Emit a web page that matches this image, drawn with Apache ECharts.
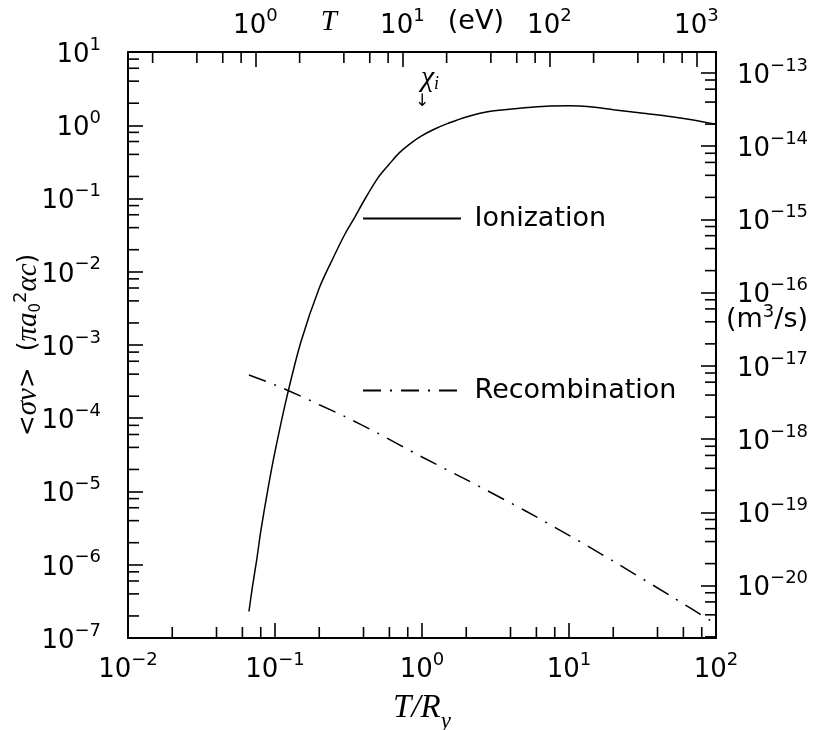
<!DOCTYPE html>
<html><head><meta charset="utf-8">
<script src="https://cdn.jsdelivr.net/npm/echarts@6/dist/echarts.min.js"></script>
<style>html,body{margin:0;padding:0;background:#fff}#c{width:818px;height:730px}</style>
</head><body><div id="c"></div>
<script>
// ---- data ----
const ionT = [0.0665, 0.07, 0.075, 0.08, 0.09, 0.1, 0.12, 0.15, 0.2, 0.25, 0.3, 0.35, 0.4, 0.5, 0.6, 0.7, 0.85, 1, 1.2, 1.5, 2, 3, 5, 7, 10, 15, 20, 30, 50, 70, 100];
const ionRate = [2.3e-7, 4.8e-7, 1.15e-6, 2.85e-6, 1.15e-5, 3.5e-5, 1.9e-4, 1.1e-3, 6.0e-3, 0.0158, 0.033, 0.056, 0.091, 0.19, 0.295, 0.42, 0.58, 0.72, 0.875, 1.06, 1.30, 1.56, 1.73, 1.82, 1.84, 1.76, 1.63, 1.48, 1.31, 1.18, 1.03];
const recT = [0.0665, 0.1, 0.15, 0.2, 0.3, 0.5, 1, 2, 5, 10, 20, 50, 100];
const recRate = [3.9e-4, 2.85e-4, 2.0e-4, 1.53e-4, 1.05e-4, 6.25e-5, 2.96e-5, 1.45e-5, 5.5e-6, 2.52e-6, 1.12e-6, 3.67e-7, 1.55e-7];
const seriesNames = ['Ionization', 'Recombination'];
const xRange = [0.01, 100];          // T/Ry
const yRange = [1e-7, 10];           // <sigma v> in pi a0^2 alpha c
const RY_EV = 13.6;                  // eV per Rydberg
const RATE_UNIT = 1.93e-14;          // m^3/s per (pi a0^2 alpha c)
const minorMult = [2, 4, 6, 8];

// ---- helpers ----
function expLabel(v) {
  const e = Math.round(Math.log10(v));
  return '{b|10}{s|' + (e < 0 ? '\u2212' + (-e) : e) + '}';
}
function minorVals(lo, hi) {
  const out = [];
  for (let e = Math.floor(Math.log10(lo)); e <= Math.ceil(Math.log10(hi)); e++) {
    for (const m of minorMult) {
      const v = m * Math.pow(10, e);
      if (v > lo * 1.0001 && v < hi * 0.9999) out.push(v);
    }
  }
  return out;
}
const rich = {
  b: {fontFamily: 'DejaVu Sans', fontSize: 26, lineHeight: 32, verticalAlign: 'bottom', color: '#000'},
  s: {fontFamily: 'DejaVu Sans', fontSize: 18, lineHeight: 18, verticalAlign: 'top', color: '#000'}
};
const axLine = {show: true, lineStyle: {color: '#000', width: 2}};
const axTick = {show: true, inside: true, length: 15, lineStyle: {color: '#000', width: 1.6}};
const tickStyle = {stroke: '#000', lineWidth: 1.6};
const MINOR = 11;

function tickSeries(xi, yi, data, dx, dy) {
  return {
    type: 'custom', xAxisIndex: xi, yAxisIndex: yi, silent: true, clip: false, z: 5,
    data: data,
    renderItem: function (params, api) {
      const p = api.coord([api.value(0), api.value(1)]);
      return {type: 'line', shape: {x1: p[0], y1: p[1], x2: p[0] + dx, y2: p[1] + dy}, style: tickStyle};
    }
  };
}

const chart = echarts.init(document.getElementById('c'), null, {renderer: 'canvas'});
const eVRange = [xRange[0] * RY_EV, xRange[1] * RY_EV];
const mRange = [yRange[0] * RATE_UNIT, yRange[1] * RATE_UNIT];

chart.setOption({
  animation: false,
  backgroundColor: '#fff',
  grid: {left: 128, right: 102, top: 52, bottom: 92, show: false, containLabel: false, outerBoundsMode: 'none'},
  legend: {
    data: seriesNames, orient: 'vertical', left: 362, top: 205, padding: 0,
    itemWidth: 98, itemHeight: 14, itemGap: 145,
    formatter: n => ' ' + n,
    itemStyle: {opacity: 0, color: 'rgba(0,0,0,0)', borderColor: 'rgba(0,0,0,0)', borderWidth: 0},
    textStyle: {fontFamily: 'DejaVu Sans', fontSize: 27, color: '#000'}
  },
  xAxis: [
    {type: 'log', logBase: 10, position: 'bottom', min: xRange[0], max: xRange[1],
     axisLine: axLine, axisTick: axTick, splitLine: {show: false}, minorTick: {show: false},
     axisLabel: {margin: 13, formatter: expLabel, rich: rich},
     name: '{i|T}{i|/R}{y|y}', nameLocation: 'middle', nameGap: 54, nameMoveOverlap: false,
     nameTextStyle: {rich: {
       i: {fontFamily: 'Liberation Serif', fontStyle: 'italic', fontSize: 33, lineHeight: 36, verticalAlign: 'top', color: '#000'},
       y: {fontFamily: 'Liberation Serif', fontStyle: 'italic', fontSize: 23, lineHeight: 22, verticalAlign: 'bottom', color: '#000', padding: [0, 0, -5, 0]}
     }}},
    {type: 'log', logBase: 10, position: 'top', min: eVRange[0], max: eVRange[1],
     axisLine: axLine, axisTick: axTick, splitLine: {show: false},
     axisLabel: {margin: 13, formatter: expLabel, rich: rich, showMinLabel: false, showMaxLabel: false}}
  ],
  yAxis: [
    {type: 'log', logBase: 10, position: 'left', min: yRange[0], max: yRange[1], splitNumber: 8,
     axisLine: axLine, axisTick: axTick, splitLine: {show: false},
     axisLabel: {margin: 27, formatter: expLabel, rich: rich},
     name: '{t|<}{g|σv}{t|>  (}{g|πa}{sb|0}{sp|2}{g|αc}{t|)}', nameLocation: 'middle', nameGap: 84, nameRotate: 90, nameMoveOverlap: false,
     nameTextStyle: {rich: {
       t: {fontFamily: 'DejaVu Sans', fontSize: 25, lineHeight: 32, color: '#000'},
       g: {fontFamily: 'Liberation Serif', fontStyle: 'italic', fontSize: 29, lineHeight: 32, color: '#000'},
       sb: {fontFamily: 'DejaVu Sans', fontSize: 15, lineHeight: 15, verticalAlign: 'bottom', color: '#000'},
       sp: {fontFamily: 'DejaVu Sans', fontSize: 18, lineHeight: 18, verticalAlign: 'top', color: '#000'}
     }}},
    {type: 'log', logBase: 10, position: 'right', min: mRange[0], max: mRange[1], splitNumber: 8,
     axisLine: axLine, axisTick: axTick, splitLine: {show: false},
     axisLabel: {margin: 21, formatter: expLabel, rich: rich, showMinLabel: false, showMaxLabel: false}}
  ],
  series: [
    {name: seriesNames[0], type: 'line', xAxisIndex: 0, yAxisIndex: 0, symbol: 'none', showSymbol: false, smooth: 0.3,
     data: ionT.map((t, i) => [t, ionRate[i]]),
     lineStyle: {color: '#000', width: 1.5}, itemStyle: {color: '#000'}},
    {name: seriesNames[1], type: 'line', xAxisIndex: 0, yAxisIndex: 0, symbol: 'none', showSymbol: false, smooth: 0.3,
     data: recT.map((t, i) => [t, recRate[i]]),
     lineStyle: {color: '#000', width: 1.5, type: [18, 9, 2, 9]}, itemStyle: {color: '#000'}},
    tickSeries(0, 0, minorVals(xRange[0], xRange[1]).map(v => [v, yRange[0]]), 0, -MINOR),
    tickSeries(1, 0, minorVals(eVRange[0], eVRange[1]).map(v => [v, yRange[1]]), 0, MINOR),
    tickSeries(0, 0, minorVals(yRange[0], yRange[1]).map(v => [xRange[0], v]), MINOR, 0),
    tickSeries(0, 1, minorVals(mRange[0], mRange[1]).map(v => [xRange[1], v]), -MINOR, 0)
  ]
});

// annotations placed through the axes
const pT = chart.convertToPixel({xAxisIndex: 1}, Math.sqrt(1 * 10));
const pEV = chart.convertToPixel({xAxisIndex: 1}, Math.sqrt(10 * 100));
const pChi = chart.convertToPixel({xAxisIndex: 0}, 1);
chart.setOption({
  graphic: [
    {type: 'text', x: pT, y: 22, style: {text: 'T', font: 'italic 29px "Liberation Serif"', fill: '#000', align: 'center', verticalAlign: 'middle', textAlign: 'center', textVerticalAlign: 'middle'}},
    {type: 'text', x: pEV, y: 22, style: {text: '(eV)', font: '27px "DejaVu Sans"', fill: '#000', align: 'center', verticalAlign: 'middle', textAlign: 'center', textVerticalAlign: 'middle'}},
    {type: 'text', x: pChi + 8, y: 78, style: {text: '{c|χ}{i|i}', align: 'center', verticalAlign: 'middle', textAlign: 'center', textVerticalAlign: 'middle',
      rich: {c: {fontFamily: 'Liberation Serif', fontStyle: 'italic', fontSize: 30, lineHeight: 30, fill: '#000', color: '#000'},
             i: {fontFamily: 'Liberation Serif', fontStyle: 'italic', fontSize: 18, lineHeight: 18, verticalAlign: 'bottom', fill: '#000', color: '#000'}}}},
    {type: 'text', x: pChi, y: 102, style: {text: '↓', font: '17px "DejaVu Sans"', fill: '#000', align: 'center', verticalAlign: 'middle', textAlign: 'center', textVerticalAlign: 'middle'}},
    {type: 'text', x: 767, y: 318, style: {text: '{p|(m}{s|3}{p|/s)}', align: 'center', verticalAlign: 'middle', textAlign: 'center', textVerticalAlign: 'middle',
      rich: {p: {fontFamily: 'DejaVu Sans', fontSize: 27, lineHeight: 30, verticalAlign: 'bottom', fill: '#000', color: '#000'},
             s: {fontFamily: 'DejaVu Sans', fontSize: 18, lineHeight: 18, verticalAlign: 'top', fill: '#000', color: '#000'}}}}
  ]
});
</script>
</body></html>
